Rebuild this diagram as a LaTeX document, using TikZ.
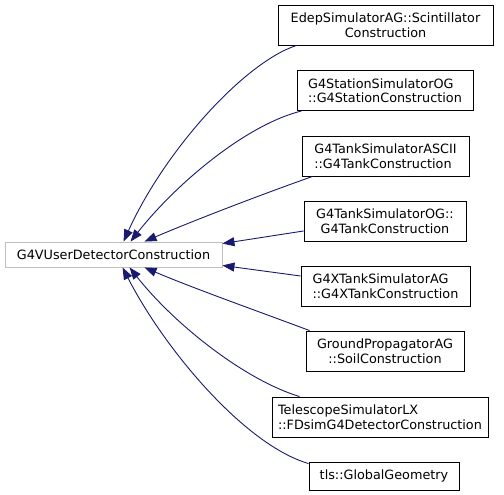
\documentclass[tikz,border=0pt]{standalone}
\usepackage{fontspec}
\setmainfont{DejaVu Sans}
\usetikzlibrary{arrows.meta}
\definecolor{edgecol}{HTML}{191970}
\definecolor{basegray}{HTML}{BFBFBF}
\begin{document}
\begin{tikzpicture}[x=1pt,y=-1pt,
  box/.style={draw=black, line width=0.9pt, fill=white, inner sep=0pt,
    minimum height=40pt, font=\fontsize{12.8}{14.5}\selectfont},
  basebox/.style={box, draw=basegray, minimum height=25pt},
  edge/.style={draw=edgecol, line width=0.9pt, -{Triangle[length=12pt,width=9pt]}}]
\useasboundingbox[fill=white] (0,0) rectangle (504,495);
\node[basebox, minimum width=217pt] (base) at (113.5,254.5) {G4VUserDetectorConstruction};
\node[box, minimum width=215pt, align=center] (edep) at (385.5,25) {EdepSimulatorAG::Scintillator\\Construction};
\node[box, minimum width=176pt, align=left] (station) at (385,90.5) {G4StationSimulatorOG\\::G4StationConstruction};
\node[box, minimum width=167pt, align=left] (ascii) at (385.5,156) {G4TankSimulatorASCII\\::G4TankConstruction};
\node[box, minimum width=162pt, align=center] (tankog) at (385,221) {G4TankSimulatorOG::\\G4TankConstruction};
\node[box, minimum width=169pt, align=left] (xtank) at (385.5,286) {G4XTankSimulatorAG\\::G4XTankConstruction};
\node[box, minimum width=158pt, align=center] (ground) at (385,351) {GroundPropagatorAG\\::SoilConstruction};
\node[box, minimum width=216pt, align=left] (tele) at (380,417) {TelescopeSimulatorLX\\::FDsimG4DetectorConstruction};
\node[box, minimum width=150pt, minimum height=28pt, align=center] (tls) at (384,476) {tls::GlobalGeometry};

\draw[edge] ([xshift=19pt]edep.south west) .. controls (245,62) and (165,150) .. ([xshift=119pt]base.north west);
\draw[edge] ([xshift=5pt]station.south west) .. controls (245,125) and (175,185) .. ([xshift=126pt]base.north west);
\draw[edge] ([xshift=11pt]ascii.south west) .. controls (260,195) and (190,222) .. ([xshift=140pt]base.north west);
\draw[edge] ([yshift=-10pt]tankog.west) -- ([yshift=-2pt]base.north east);
\draw[edge] ([yshift=10pt]xtank.west) -- ([yshift=2pt]base.south east);
\draw[edge] ([xshift=4pt]ground.north west) .. controls (260,312) and (190,287) .. ([xshift=140pt]base.south west);
\draw[edge] ([xshift=28pt]tele.north west) .. controls (245,380) and (175,325) .. ([xshift=125pt]base.south west);
\draw[edge] ([yshift=-2pt]tls.north west) .. controls (245,445) and (165,350) .. ([xshift=118pt]base.south west);
\end{tikzpicture}
\end{document}
